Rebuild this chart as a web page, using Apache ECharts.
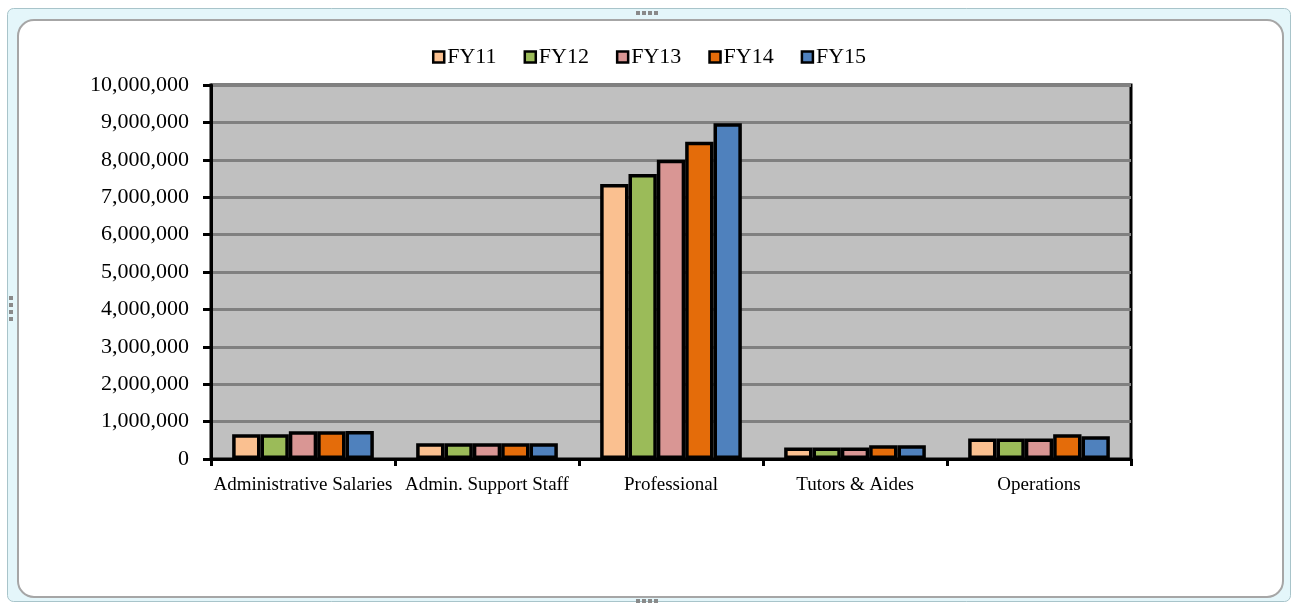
<!DOCTYPE html>
<html lang="en">
<head>
    <meta charset="utf-8">
    <title>Budget by Category FY11-FY15</title>
    <style>
        html, body { margin: 0; padding: 0; background: #fff; }
        #chart { width: 1298px; height: 605px; }
    </style>
</head>
<body>
    <div id="chart"></div>

<script src="https://cdn.jsdelivr.net/npm/echarts@6/dist/echarts.min.js"></script>
<script>
    // categories and yearly values
    var categories = ['Administrative Salaries', 'Admin. Support Staff', 'Professional', 'Tutors & Aides', 'Operations'];
    var years = ['FY11', 'FY12', 'FY13', 'FY14', 'FY15'];
    var fy11 = [660000, 420000, 7350000, 310000, 550000];
    var fy12 = [660000, 420000, 7620000, 310000, 550000];
    var fy13 = [740000, 420000, 8000000, 310000, 550000];
    var fy14 = [740000, 420000, 8480000, 370000, 660000];
    var fy15 = [750000, 420000, 8980000, 370000, 610000];
    var yearColors = ['#FAC090', '#9BBB59', '#D99694', '#E46C0A', '#4F81BD'];

    var myChart = echarts.init(document.getElementById('chart'));

    var fontFamily = '"Liberation Serif", "Times New Roman", serif';

    function buildSeries() {
        var values = [fy11, fy12, fy13, fy14, fy15];
        var list = [];
        for (var i = 0; i < years.length; i++) {
            list.push({
                name: years[i],
                type: 'bar',
                data: values[i],
                barGap: '0%',
                barCategoryGap: '23%',
                itemStyle: {
                    color: yearColors[i],
                    borderColor: '#000',
                    borderWidth: 3.5
                }
            });
        }
        return list;
    }

    // excel style selection frame around the chart
    var handles = [];
    [[636, 11], [642, 11], [648, 11], [654, 11], [636, 599], [642, 599], [648, 599], [654, 599]].forEach(function (p) {
        handles.push({ type: 'rect', shape: { x: p[0], y: p[1], width: 4, height: 4 }, style: { fill: '#8a8a8a' }, z: 1 });
    });
    [[9, 296], [9, 303], [9, 310], [9, 317]].forEach(function (p) {
        handles.push({ type: 'rect', shape: { x: p[0], y: p[1], width: 4, height: 4 }, style: { fill: '#8a8a8a' }, z: 1 });
    });

    var option = {
        backgroundColor: '#fff',
        textStyle: { fontFamily: fontFamily },
        graphic: [
            {
                type: 'rect', z: -10, silent: true,
                shape: { x: 7.5, y: 8.5, width: 1283, height: 593, r: 6 },
                style: { fill: '#E4F6FA', stroke: '#A8C4CA', lineWidth: 1 }
            },
            {
                type: 'rect', z: -9, silent: true,
                shape: { x: 18, y: 20, width: 1265, height: 577, r: 16 },
                style: { fill: '#fff', stroke: '#A6A6A6', lineWidth: 2 }
            }
        ].concat(handles),
        legend: {
            data: years,
            top: 41,
            left: 'center',
            icon: 'rect',
            itemWidth: 11,
            itemHeight: 11,
            itemGap: 27,
            itemStyle: { borderColor: '#000', borderWidth: 2.5 },
            textStyle: { fontSize: 22, color: '#000', fontFamily: fontFamily, padding: [0, 0, 0, -2] }
        },
        grid: {
            left: 211,
            right: 167,
            top: 85,
            bottom: 146,
            show: true,
            backgroundColor: '#C0C0C0',
            borderColor: '#000',
            borderWidth: 3
        },
        xAxis: {
            type: 'category',
            data: categories,
            axisLine: { lineStyle: { color: '#000', width: 3 } },
            axisTick: { show: true, length: 7, lineStyle: { color: '#000', width: 3 } },
            axisLabel: { color: '#000', fontSize: 19, fontFamily: fontFamily, margin: 17, interval: 0 }
        },
        yAxis: {
            type: 'value',
            min: 0,
            max: 10000000,
            interval: 1000000,
            axisLine: { show: true, lineStyle: { color: '#000', width: 3 } },
            axisTick: { show: true, length: 8, lineStyle: { color: '#000', width: 3 } },
            splitLine: { lineStyle: { color: '#808080', width: 3 } },
            axisLabel: {
                color: '#000',
                fontSize: 22,
                fontFamily: fontFamily,
                margin: 22,
                formatter: function (v) {
                    return v.toString().replace(/\B(?=(\d{3})+(?!\d))/g, ',');
                }
            }
        },
        series: buildSeries()
    };

    myChart.setOption(option);
</script>
</body>
</html>
